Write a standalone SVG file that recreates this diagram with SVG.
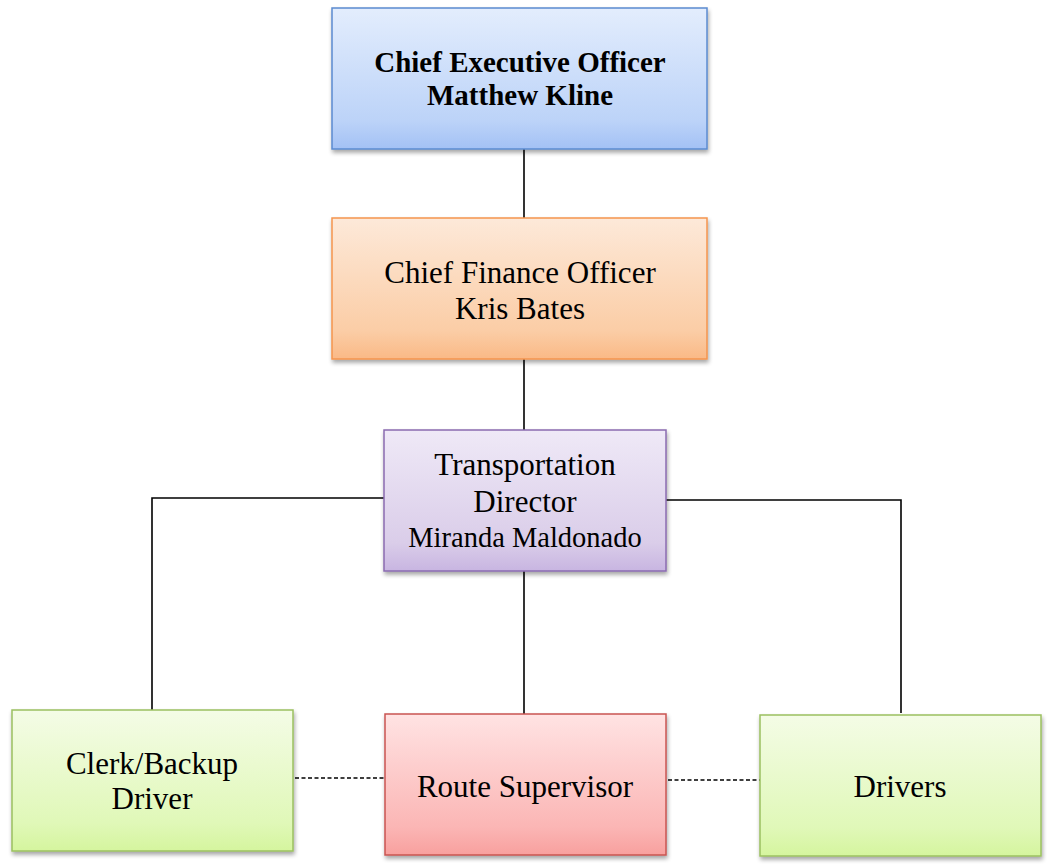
<svg xmlns="http://www.w3.org/2000/svg" width="1047" height="867" viewBox="0 0 1047 867">
<style>
text{font-family:"Liberation Serif","Times New Roman",serif;fill:#000;text-anchor:middle}
.t{font-size:31px}
.b{font-size:29px;font-weight:bold}
.s{font-size:28.5px}
.box{stroke-width:1.5;filter:url(#sh)}
.ln{stroke:#000;stroke-width:1.6;fill:none}
.dl{stroke:#000;stroke-width:1.5;stroke-dasharray:4 2.5;fill:none}
</style>
<defs>
<filter id="sh" x="-10%" y="-10%" width="120%" height="130%">
<feGaussianBlur in="SourceAlpha" stdDeviation="2"/>
<feOffset dx="1" dy="3" result="o"/>
<feComponentTransfer><feFuncA type="linear" slope="0.35"/></feComponentTransfer>
<feMerge><feMergeNode/><feMergeNode in="SourceGraphic"/></feMerge>
</filter>
<linearGradient id="gBlue" x1="0" y1="0" x2="0" y2="1"><stop offset="0" stop-color="#e3edfd"/><stop offset="0.8" stop-color="#bcd3f8"/><stop offset="1" stop-color="#a3c1f5"/></linearGradient>
<linearGradient id="gOrange" x1="0" y1="0" x2="0" y2="1"><stop offset="0" stop-color="#fde9d9"/><stop offset="0.8" stop-color="#fbcda6"/><stop offset="1" stop-color="#fab986"/></linearGradient>
<linearGradient id="gPurple" x1="0" y1="0" x2="0" y2="1"><stop offset="0" stop-color="#efe9f7"/><stop offset="0.8" stop-color="#dacde9"/><stop offset="1" stop-color="#c8b5e1"/></linearGradient>
<linearGradient id="gRed" x1="0" y1="0" x2="0" y2="1"><stop offset="0" stop-color="#ffe3e3"/><stop offset="0.8" stop-color="#fbb6b5"/><stop offset="1" stop-color="#f8a09e"/></linearGradient>
<linearGradient id="gGreen" x1="0" y1="0" x2="0" y2="1"><stop offset="0" stop-color="#f4fce6"/><stop offset="0.8" stop-color="#e0f8b8"/><stop offset="1" stop-color="#d5f59e"/></linearGradient>
</defs>
<g id="connectors">
<line class="ln" x1="524" y1="149" x2="524" y2="218"/>
<line class="ln" x1="524" y1="359" x2="524" y2="430"/>
<line class="ln" x1="524" y1="571" x2="524" y2="714"/>
<polyline class="ln" points="384,498 152,498 152,710"/>
<polyline class="ln" points="666,500 901,500 901,713"/>
<line class="dl" x1="295" y1="778" x2="385" y2="778"/>
<line class="dl" x1="668" y1="780" x2="760" y2="780"/>
</g>
<g id="ceo">
<rect class="box" x="332" y="8" width="375" height="141" fill="url(#gBlue)" stroke="#5b8bd0"/>
<text class="b" x="520" y="72">Chief Executive Officer</text>
<text class="b" x="520" y="105">Matthew Kline</text>
</g>
<g id="cfo">
<rect class="box" x="332" y="218" width="375" height="141" fill="url(#gOrange)" stroke="#f5954e"/>
<text class="t" x="520" y="283">Chief Finance Officer</text>
<text class="t" x="520" y="319">Kris Bates</text>
</g>
<g id="director">
<rect class="box" x="384" y="430" width="282" height="141" fill="url(#gPurple)" stroke="#8a6bb0"/>
<text class="t" x="525" y="475">Transportation</text>
<text class="t" x="525" y="512">Director</text>
<text class="s" x="525" y="547">Miranda Maldonado</text>
</g>
<g id="clerk">
<rect class="box" x="12" y="710" width="281" height="141" fill="url(#gGreen)" stroke="#9bc060"/>
<text class="t" x="152" y="774">Clerk/Backup</text>
<text class="t" x="152" y="809">Driver</text>
</g>
<g id="route">
<rect class="box" x="385" y="714" width="281" height="141" fill="url(#gRed)" stroke="#c95451"/>
<text class="t" x="525" y="797">Route Supervisor</text>
</g>
<g id="drivers">
<rect class="box" x="760" y="715" width="281" height="141" fill="url(#gGreen)" stroke="#9bc060"/>
<text class="t" x="900" y="797">Drivers</text>
</g>
</svg>
